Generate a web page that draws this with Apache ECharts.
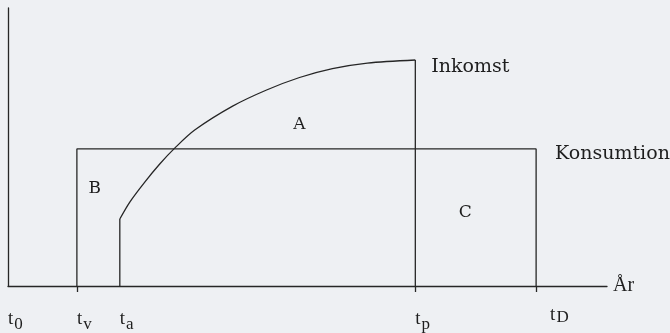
<!DOCTYPE html>
<html>
<head>
<meta charset="utf-8">
<script src="https://cdn.jsdelivr.net/npm/echarts@6/dist/echarts.min.js"></script>
<style>
  html, body { margin: 0; padding: 0; background: #eef0f3; }
  #chart { width: 670px; height: 333px; }
</style>
</head>
<body>
<div id="chart"></div>
<script>
// Time points on the year axis (t0, tv, ta, tp, tD)
const tickNames = ['0', 'v', 'a', 'p', 'D'];
const tickYears = [0, 6.9, 11.2, 40.8, 52.9];

// Income path: starts at ta, rises and levels off at tp
const incomeYears  = [11.2, 12.2, 13.7, 15.2, 16.7, 18.7, 22.5, 25.9, 29.2, 32.5, 36.0, 40.8];
const incomeValues = [24.1, 30.2, 37.4, 43.9, 49.6, 56.1, 64.7, 70.5, 75.0, 78.2, 80.2, 81.3];

// Constant consumption from tv to tD
const consumptionLevel = 49.3;

// Area names and where they sit (year, amount)
const areaNames = ['A', 'B', 'C'];
const areaYears = [29.2, 8.7, 45.8];
const areaValues = [57.9, 34.9, 26.3];

const ink = '#262626';
const textInk = '#1e1e1e';
const lineStyle = { color: ink, width: 1.3 };

const tv = tickYears[1], ta = tickYears[2], tp = tickYears[3], tD = tickYears[4];

const incomeData = incomeYears.map((x, i) => [x, incomeValues[i]]);
const consumptionData = [[tv, 0], [tv, consumptionLevel], [tD, consumptionLevel], [tD, 0]];
const startData = [[ta, 0], [ta, incomeValues[0]]];
const endData = [[tp, incomeValues[incomeValues.length - 1]], [tp, 0]];
const areaData = areaNames.map((n, i) => ({ name: n, value: [areaYears[i], areaValues[i]] }));

const chart = echarts.init(document.getElementById('chart'));
chart.setOption({
  backgroundColor: '#eef0f3',
  animation: false,
  grid: { left: 8, right: 63, top: 8, bottom: 47 },
  xAxis: {
    type: 'value', min: 0, max: 60,
    name: 'År', nameLocation: 'end', nameGap: 6,
    nameTextStyle: { fontFamily: 'Liberation Serif', fontSize: 20, color: textInk, verticalAlign: 'middle', padding: [6, 0, 0, 0] },
    axisLine: { lineStyle: { color: ink, width: 1.3 } },
    axisTick: { show: true, customValues: [tv, tp, tD], length: 6, inside: false, lineStyle: { color: ink, width: 1.3 } },
    splitLine: { show: false },
    axisLabel: {
      customValues: tickYears,
      align: 'left',
      margin: 19,
      formatter: function (v) {
        const i = tickYears.indexOf(v);
        if (i < 0) return '';
        if (tickNames[i] === 'D') return '{gap|}{t|t}{d|D}';
        return '{t|t}{s|' + tickNames[i] + '}';
      },
      rich: {
        gap: { width: 14 },
        t: { fontFamily: 'Liberation Serif', fontSize: 19, color: textInk },
        s: { fontFamily: 'Liberation Serif', fontSize: 17, color: textInk, padding: [11, 0, 0, 1] },
        d: { fontFamily: 'Liberation Serif', fontSize: 17, color: textInk, padding: [4, 0, 0, 1] }
      }
    }
  },
  yAxis: {
    type: 'value', min: 0, max: 100,
    axisLine: { show: true, lineStyle: { color: ink, width: 1.3 } },
    axisTick: { show: false },
    axisLabel: { show: false },
    splitLine: { show: false }
  },
  series: [
    {
      name: 'Inkomst', type: 'line', data: incomeData, smooth: 0.3,
      symbol: 'none', lineStyle: lineStyle,
      endLabel: {
        show: true, formatter: 'Inkomst', offset: [8, 7],
        fontFamily: 'DejaVu Serif', fontSize: 19, color: textInk
      }
    },
    {
      name: 'Konsumtion', type: 'line', data: consumptionData,
      symbol: 'none', lineStyle: lineStyle
    },
    {
      name: 'start', type: 'line', data: startData,
      symbol: 'none', lineStyle: lineStyle
    },
    {
      name: 'slut', type: 'line', data: endData,
      symbol: 'none', lineStyle: lineStyle
    },
    {
      name: 'Konsumtion-etikett', type: 'scatter',
      data: [[tD, consumptionLevel]], symbolSize: 0,
      itemStyle: { opacity: 1 },
      label: {
        show: true, position: 'right', formatter: 'Konsumtion', offset: [14, 5],
        fontFamily: 'DejaVu Serif', fontSize: 19, color: textInk
      }
    },
    {
      name: 'områden', type: 'scatter', data: areaData, symbolSize: 0,
      itemStyle: { opacity: 1 },
      label: {
        show: true, position: 'inside', formatter: '{b}',
        fontFamily: 'DejaVu Serif', fontSize: 17, color: textInk
      }
    }
  ]
});
</script>
</body>
</html>
